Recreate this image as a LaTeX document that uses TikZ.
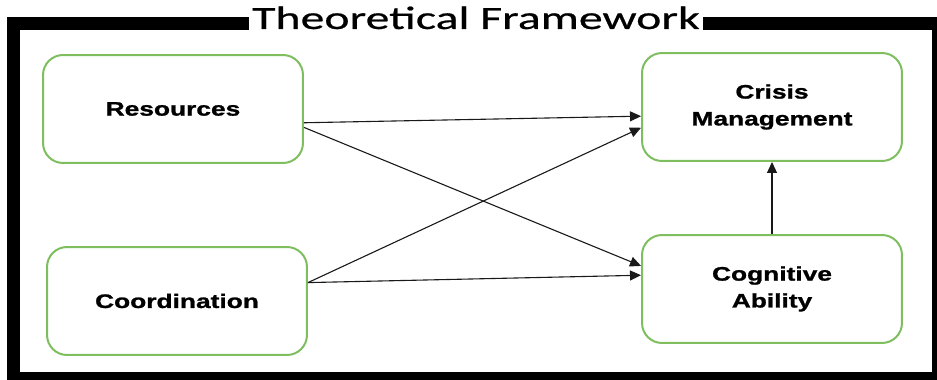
\documentclass[tikz,border=0pt]{standalone}
\usepackage{fontspec}
\usepackage{xcolor}
\usetikzlibrary{arrows.meta}
\newfontfamily\titlefont[FakeStretch=1.47,FakeBold=0.6]{Carlito}
\newfontfamily\boxfont[FakeStretch=1.35,FakeBold=1.2]{Liberation Sans}
\definecolor{verde}{HTML}{7EBE5E}
\definecolor{freccianera}{gray}{0.1}

\begin{document}
\begin{tikzpicture}[x=0.02cm,y=0.02cm,>={Triangle[length=0.22cm,width=0.2cm]},
  blocco/.style={draw=verde,line width=0.04cm,rounded corners=0.4cm,
    minimum width=5.2cm,minimum height=2.16cm,align=center,
    font=\boxfont\bfseries\fontsize{11.1}{15.3}\selectfont},
  freccia/.style={->,line width=0.022cm,freccianera}]
  \useasboundingbox (0,0) rectangle (937,379);
  % cornice e titolo
  \draw[line width=0.26cm] (13.5,355.5) rectangle (938.5,0.5);
  \node[fill=white,inner xsep=0.06cm,anchor=base,
    font=\titlefont\fontsize{18.5}{22}\selectfont] (titolo) at (476,350) {Theoretical Framework};
  % blocchi
  \node[blocco] (res) at (173,270) {Resources};
  \node[blocco] (coo) at (177,78) {Coordination};
  \node[blocco] (cri) at (772,272) {Crisis\\Management};
  \node[blocco] (cog) at (772,90) {Cognitive\\Ability};
  % frecce
  \draw[freccia] (res.-6) -- (cri.184);
  \draw[freccia] (res.-8) -- (cog.170);
  \draw[freccia] (coo.8) -- (cri.189);
  \draw[freccia] (coo.8) -- (cog.174);
  \draw[freccia] (cog.north) -- (cri.south);
\end{tikzpicture}
\end{document}
